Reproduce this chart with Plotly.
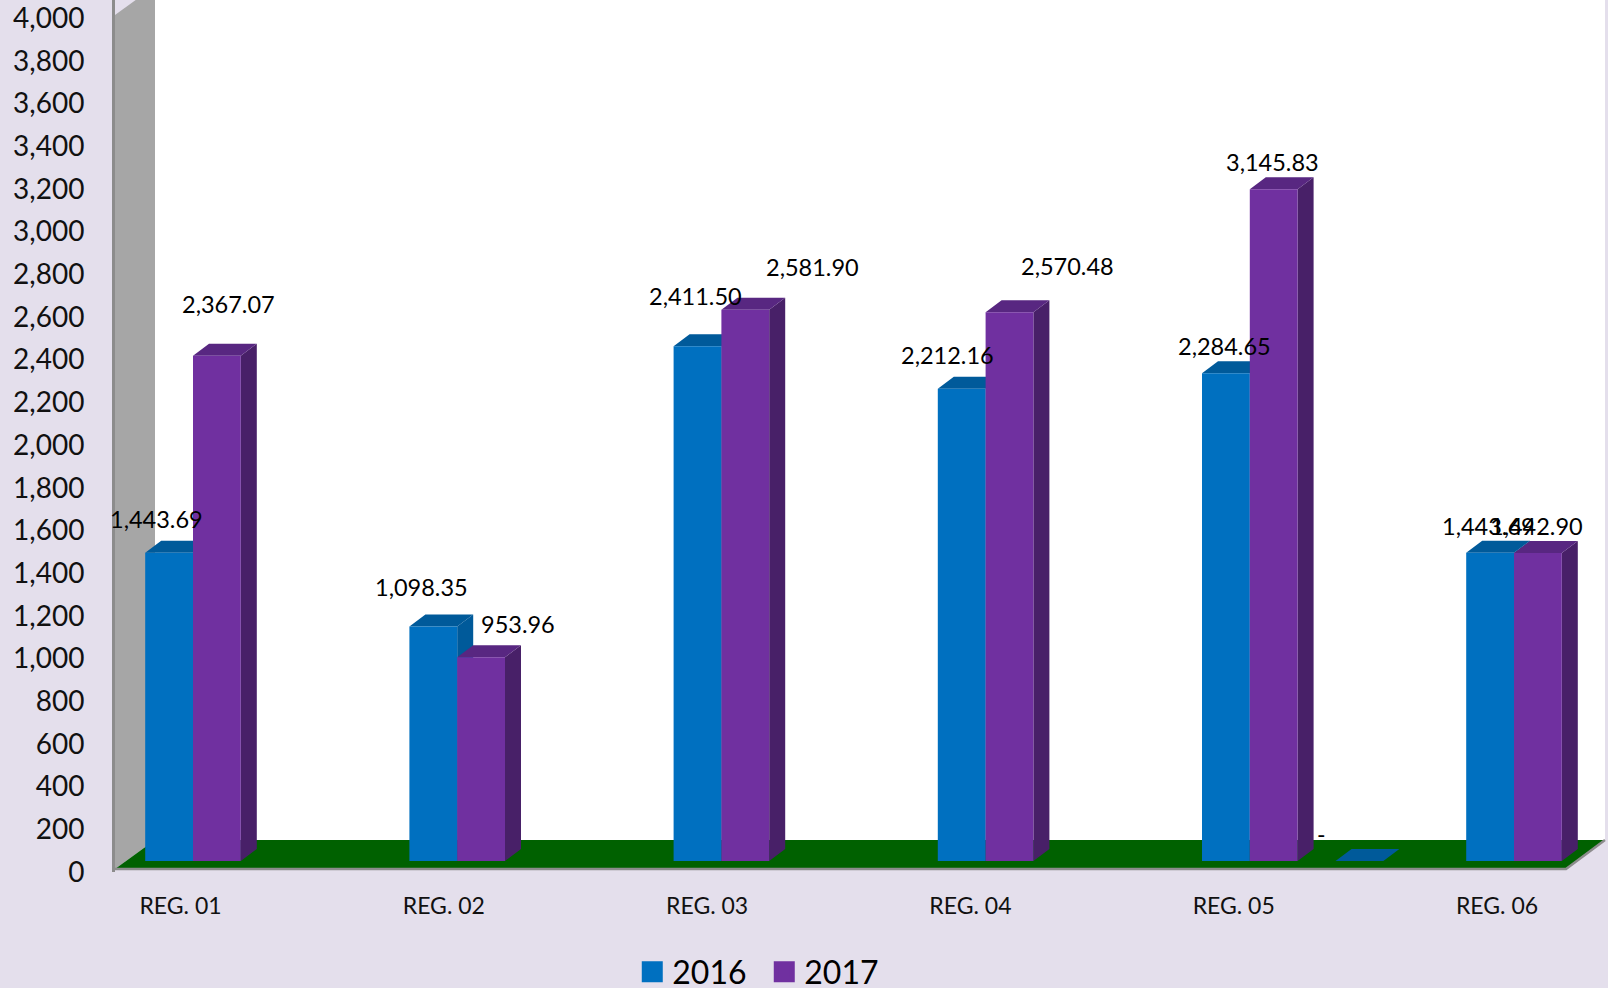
import plotly.graph_objects as go

categories = ["REG. 01", "REG. 02", "REG. 03", "REG. 04", "REG. 05", "REG. 06"]
values_2016 = [1443.69, 1098.35, 2411.50, 2212.16, 2284.65, 1443.69]
values_2017 = [2367.07, 953.96, 2581.90, 2570.48, 3145.83, 1442.90]
y_ticks = list(range(0, 4001, 200))
gap_position = 4.415   # the empty 2016 bar drawn between REG. 05 and REG. 06
gap_value = 0

# chart geometry
PX_PER_CAT = 264.2
PX_PER_VAL = 0.2135
LEFT, BOTTOM = 115, 116
W, H = 1608, 988
X0_PX = 193
WALL_PX = 3    # the walls sit this far above the tick-label axis
FLOOR_PX = 11  # the bars sit this far above the tick-label axis
cat = lambda px: px / PX_PER_CAT
val = lambda px: px / PX_PER_VAL
BAR_W = cat(47.8)
DX, DY = cat(16), val(12)
WX, WY = cat(40), val(29)
xr = [(LEFT - X0_PX) / PX_PER_CAT, (W - X0_PX) / PX_PER_CAT]
ytop = (H - BOTTOM) / PX_PER_VAL
yr = [0, ytop]
yr_wall = [-val(WALL_PX), ytop - val(WALL_PX)]
yr_bar = [-val(FLOOR_PX), ytop - val(FLOOR_PX)]
x_front_end = cat(1566 - X0_PX)
x_back_end = cat(1605 - X0_PX)

BG = "#E4DFEC"
BLUE, BLUE_D = "#0070C0", "#005A9A"
PURPLE, PURPLE_T, PURPLE_S = "#7030A0", "#582781", "#482068"
FONT = "Lato"


def poly(name, xs, ys, color, yaxis="y2"):
    return go.Scatter(x=xs, y=ys, mode="lines", fill="toself", fillcolor=color,
                      line=dict(width=0, color=color), showlegend=False,
                      hoverinfo="skip", name=name, yaxis=yaxis)


def faces(centers, values):
    tx, ty, sx, sy = [], [], [], []
    for c, v in zip(centers, values):
        l, r = c - BAR_W / 2, c + BAR_W / 2
        tx += [l, r, r + DX, l + DX, l, None]
        ty += [v, v, v + DY, v + DY, v, None]
        if v > 0:
            sx += [r, r + DX, r + DX, r, r, None]
            sy += [0, DY, v + DY, v, 0, None]
    return tx, ty, sx, sy


pos = list(range(len(categories)))
c16 = [p - BAR_W / 2 for p in pos]
c17 = [p + BAR_W / 2 for p in pos]

fig = go.Figure()
x_wall = xr[0]

# legend entries (also anchor the tick-label axis)
for name, col in (("2016", BLUE), ("2017", PURPLE)):
    fig.add_trace(go.Scatter(x=[None], y=[None], mode="markers", name=name, yaxis="y",
                             marker=dict(symbol="square", size=16, color=col,
                                         line=dict(width=5, color=col))))

# back wall, side wall, floor
fig.add_trace(poly("back wall", [x_wall + WX, x_back_end, x_back_end, x_wall + WX, x_wall + WX],
                   [WY, WY, ytop, ytop, WY], "#FFFFFF"))
fig.add_trace(poly("side wall", [x_wall, x_wall + WX, x_wall + WX, x_wall, x_wall],
                   [0, WY, 4000 + WY, 4000, 0], "#A6A6A6"))
fig.add_trace(poly("floor", [x_wall, x_front_end, x_back_end, x_wall + WX, x_wall],
                   [0, 0, WY, WY, 0], "#006100"))
fig.add_trace(go.Scatter(x=[x_wall, x_front_end, x_back_end], y=[0, 0, WY], mode="lines",
                         yaxis="y2", line=dict(color="#8C8C8C", width=2.5), showlegend=False,
                         hoverinfo="skip", cliponaxis=False))

# depth faces
t16x, t16y, s16x, s16y = faces(c16 + [gap_position], values_2016 + [gap_value])
t17x, t17y, s17x, s17y = faces(c17, values_2017)
fig.add_trace(poly("2016 side", s16x, s16y, BLUE_D, "y3"))
fig.add_trace(poly("2016 top", t16x, t16y, BLUE_D, "y3"))
fig.add_trace(poly("2017 side", s17x, s17y, PURPLE_S, "y3"))
fig.add_trace(poly("2017 top", t17x, t17y, PURPLE_T, "y3"))

# front faces
fig.add_trace(go.Bar(x=c16, y=values_2016, width=BAR_W, marker=dict(color=BLUE, line=dict(width=0)),
                     name="2016", yaxis="y4", showlegend=False))
fig.add_trace(go.Bar(x=c17, y=values_2017, width=BAR_W, marker=dict(color=PURPLE, line=dict(width=0)),
                     name="2017", yaxis="y4", showlegend=False))

# value labels
off16 = [(-12.8, 33.9), (-11.4, 39.9), (-1.8, 49.7), (-14.7, 33.9), (-1, 27.6), (-1.7, 26.9)]
off17 = [(11.7, 52.1), (36.9, 33.8), (67.2, 43.2), (57.5, 46.6), (-1.4, 27.4), (-1.8, 27)]
anns = []
for cs, vs, offs in ((c16, values_2016, off16), (c17, values_2017, off17)):
    for c, v, (dx, dy) in zip(cs, vs, offs):
        anns.append(dict(x=c, y=v, xref="x", yref="y4", text=f"{v:,.2f}", showarrow=False,
                         xanchor="center", yanchor="middle", xshift=dx, yshift=dy,
                         font=dict(family=FONT, size=23.5, color="#000000")))
anns.append(dict(x=gap_position, y=gap_value, xref="x", yref="y4", text="-", showarrow=False,
                 xanchor="center", yanchor="middle", xshift=-38, yshift=27,
                 font=dict(family=FONT, size=23, color="#000000")))

tick_pos = [p * 0.9966 - 0.0473 for p in pos]
fig.update_layout(
    width=W, height=H, autosize=False,
    paper_bgcolor=BG, plot_bgcolor=BG,
    margin=dict(l=LEFT, r=0, t=0, b=BOTTOM, pad=0, autoexpand=False),
    barmode="overlay", annotations=anns,
    font=dict(family=FONT, color="#000000"),
    xaxis=dict(range=xr, tickvals=tick_pos, ticktext=categories, showgrid=False, zeroline=False,
               showline=False, ticks="", tickfont=dict(family=FONT, size=23, color="#111111"),
               ticklabelstandoff=18),
    yaxis=dict(range=yr, tickvals=y_ticks, tickformat=",d", showgrid=False, zeroline=False,
               showline=True, linecolor="#8C8C8C", linewidth=3, ticks="",
               tickfont=dict(family=FONT, size=28, color="#111111"), ticklabelstandoff=22,
               ticklabeloverflow="allow"),
    yaxis2=dict(range=yr_wall, overlaying="y", visible=False),
    yaxis3=dict(range=yr_bar, overlaying="y", visible=False),
    yaxis4=dict(range=yr_bar, overlaying="y", visible=False),
    legend=dict(orientation="h", x=0.3932, y=0.0162, xref="container", yref="container",
                xanchor="left", yanchor="middle",
                font=dict(family=FONT, size=32, color="#000000"), bgcolor="rgba(0,0,0,0)",
                itemsizing="trace", tracegroupgap=0, entrywidth=87, entrywidthmode="pixels"),
)
fig.write_html("out.html", config={"displayModeBar": False},
               post_script="document.body.style.margin='0';document.documentElement.style.overflow='hidden';")
